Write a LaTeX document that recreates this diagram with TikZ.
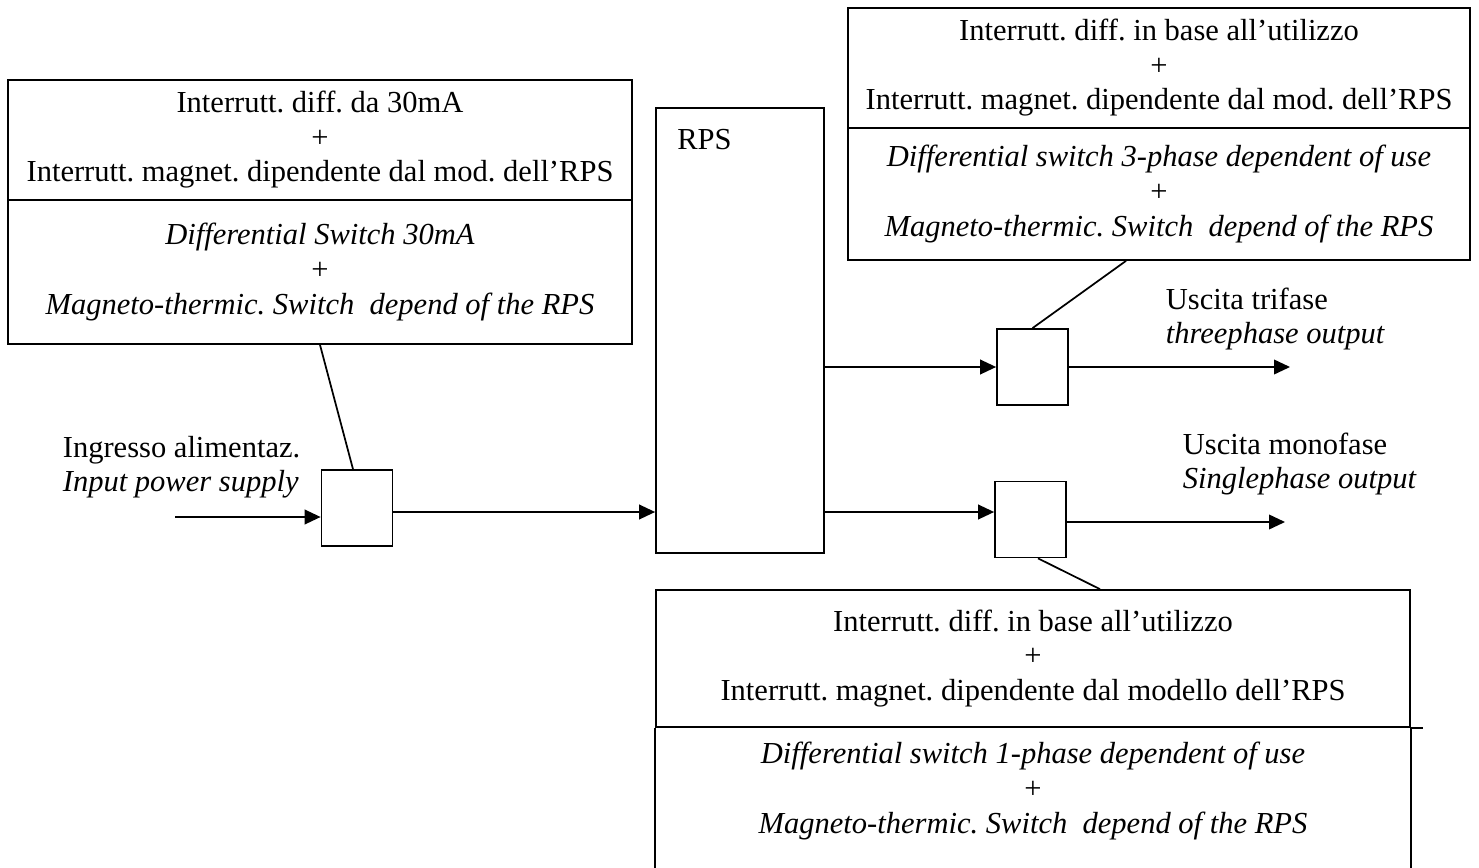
\documentclass[tikz,border=0pt]{standalone}
\usepackage{fontspec}
\setmainfont{Liberation Serif}
\usetikzlibrary{arrows.meta}
\frenchspacing

\tikzset{every picture/.style={line width=1.3pt}}
\tikzset{
  txt/.style={font=\fontsize{22.9}{25.9}\selectfont, inner sep=0pt},
  part/.style={txt, draw, align=center},
  swbox/.style={draw, minimum width=53.25pt, minimum height=57pt, inner sep=0pt},
  arr/.style={-{Triangle[length=12pt,width=11pt]}}
}

\begin{document}
\begin{tikzpicture}[x=0.75pt,y=0.75pt,yscale=-1,xscale=1]
\clip (0,0) rectangle (1479,868);

% Boxes on the left: input switch
\node [part, minimum width=468pt, minimum height=90pt] (lb1) at (320,140) {Interrutt. diff. da 30mA\\+\\Interrutt. magnet. dipendente dal mod. dell’RPS};
\node [part, minimum width=468pt, minimum height=108pt] (lb2) at (320,272) {\textit{Differential Switch 30mA}\\+\\\textit{Magneto-thermic. Switch\ \ depend of the RPS}};

% RPS
\node [draw, minimum width=126pt, minimum height=333.75pt, inner sep=0pt] (rps) at (740,330.5) {};
\node [txt] (rpsl) at (704.5,140) {RPS};

% Boxes on the right: threephase switch
\node [part, minimum width=466.5pt, minimum height=90pt] (tr1) at (1159,68) {Interrutt. diff. in base all’utilizzo\\+\\Interrutt. magnet. dipendente dal mod. dell’RPS};
\node [part, minimum width=466.5pt, minimum height=99pt] (tr2) at (1159,194) {\textit{Differential switch 3-phase dependent of use}\\+\\\textit{Magneto-thermic. Switch\ \ depend of the RPS}};

% Box at the bottom: singlephase switch
\node [part, minimum width=565.5pt, minimum height=102.75pt] (bt1) at (1033,658.5) {Interrutt. diff. in base all’utilizzo\\+\\Interrutt. magnet. dipendente dal modello dell’RPS};
\node [txt, align=center] (bt2) at (1033,791) {\textit{Differential switch 1-phase dependent of use}\\+\\\textit{Magneto-thermic. Switch\ \ depend of the RPS}};
\draw (bt1.south west) -- ++(0,160);
\draw (bt1.south east) -- ++(0,160);
\draw (bt1.south east) -- ++(12,0);

% Switches
\node [swbox] (swin) at (357,508) {};
\node [swbox] (sw3) at (1032.5,367) {};
\node [swbox] (sw1) at (1030.5,519.5) {};

% Text Nodes
\node [txt, align=left, anchor=west] (inlbl) at (62,467) {Ingresso alimentaz.\\\textit{Input power supply}};
\node [txt, align=left, anchor=west] (o3lbl) at (1165,319) {Uscita trifase\\\textit{threephase output}};
\node [txt, align=left, anchor=west] (o1lbl) at (1182,464) {Uscita monofase\\\textit{Singlephase output}};

% Arrows
\coordinate (inpt) at (175,517);
\coordinate (rowa) at (0,512);
\coordinate (o3) at (1290,367);
\coordinate (o1) at (1285,522);
\draw [arr] (inpt) -- (inpt -| swin.west);
\draw [arr] (swin.east |- rowa) -- (rps.west |- rowa);
\draw [arr] (rps.east |- sw3.west) -- (sw3.west);
\draw [arr] (sw3.east) -- (o3);
\draw [arr] (rps.east |- rowa) -- (sw1.west |- rowa);
\draw [arr] (sw1.east |- o1) -- (o1);

% Leaders
\draw (lb2.south) -- ([shift={(-4,0)}]swin.north);
\draw ([shift={(-33,0)}]tr2.south) -- (sw3.north);
\draw ([shift={(7.5,0)}]sw1.south) -- ([shift={(67,0)}]bt1.north);

\end{tikzpicture}
\end{document}
